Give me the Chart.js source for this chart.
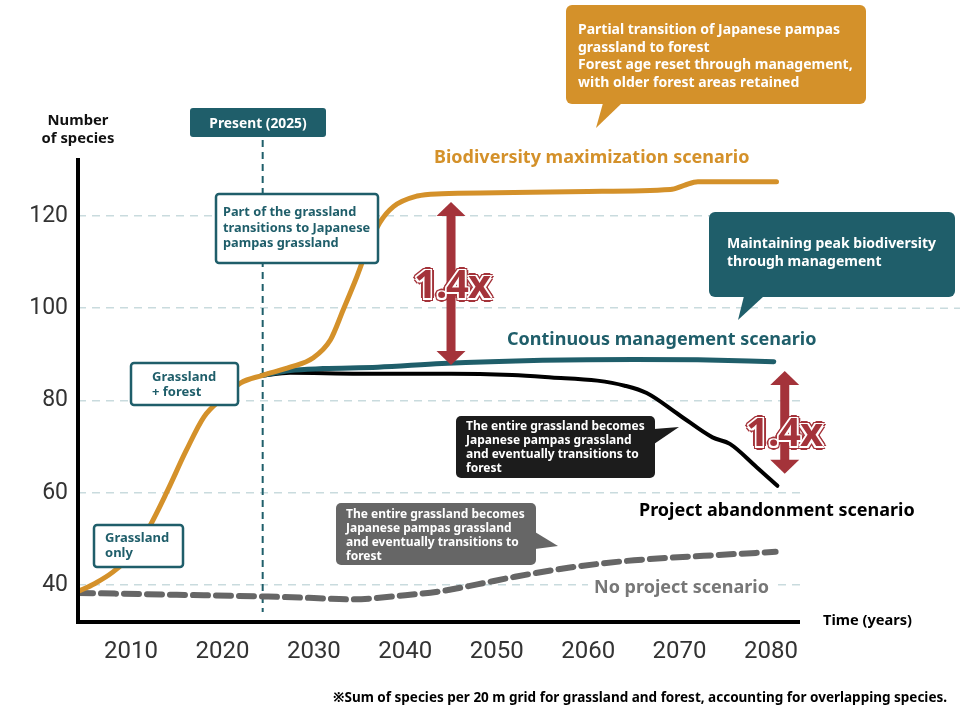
<!DOCTYPE html>
<html>
<head>
<meta charset="utf-8">
<script src="https://cdn.jsdelivr.net/npm/chart.js@4.4.0/dist/chart.umd.min.js"></script>
<style>
html, body { margin: 0; padding: 0; background: #fff; }
#wrap { position: relative; width: 960px; height: 709px; overflow: hidden; font-family: 'Noto Sans', sans-serif; font-weight: 700; }
#wrap canvas, #deco { position: absolute; left: 0; top: 0; }
.t { position: absolute; white-space: nowrap; }
.teal { color: #1f5e6a; }
.white { color: #fff; }
.times { color: #a4333a; font-size: 40px; line-height: 44px; letter-spacing: -1px;
  text-shadow: 1.5px 0 #fff, -1.5px 0 #fff, 0 1.5px #fff, 0 -1.5px #fff, 1.5px 1.5px #fff, -1.5px -1.5px #fff, 1.5px -1.5px #fff, -1.5px 1.5px #fff,
    3.5px 0 #a4333a, -3.5px 0 #a4333a, 0 3.5px #a4333a, 0 -3.5px #a4333a, 2.5px 2.5px #a4333a, -2.5px -2.5px #a4333a, 2.5px -2.5px #a4333a, -2.5px 2.5px #a4333a; }
</style>
</head>
<body>
<div id="wrap">
	<canvas id="myChart" width="960" height="709"></canvas>
	<svg id="deco" width="960" height="709">
		<rect x="190" y="108" width="136" height="29" rx="3" fill="#1f5e6a"/>
		<rect x="216" y="194" width="162" height="69" rx="3" fill="#fff" stroke="#1f5e6a" stroke-width="2.5"/>
		<rect x="131" y="363" width="107" height="42" rx="3" fill="#fff" stroke="#1f5e6a" stroke-width="2.5"/>
		<rect x="94" y="525" width="89" height="42" rx="3" fill="#fff" stroke="#1f5e6a" stroke-width="2.5"/>
		<rect x="566" y="5" width="300" height="99" rx="6" fill="#d4912a"/>
		<polygon points="603,103 622,103 596,128" fill="#d4912a"/>
		<rect x="709" y="212" width="246" height="85" rx="6" fill="#1f5e6a"/>
		<polygon points="744,296 764,296 738,320" fill="#1f5e6a"/>
		<rect x="456" y="416" width="199" height="62" rx="5" fill="#1c1c1c"/>
		<polygon points="654,429 679,427 654,444" fill="#1c1c1c"/>
		<rect x="336" y="503" width="200" height="62" rx="5" fill="#666"/>
		<polygon points="535,532 558,546 535,549" fill="#666"/>
		<rect x="588" y="576" width="188" height="20" fill="#fff"/>
	</svg>

	<div class="t" style="left:28px;top:110px;width:100px;text-align:center;font-size:14.8px;line-height:18px;color:#111">Number<br>of species</div>
	<div class="t white" style="left:190px;top:108px;width:136px;text-align:center;font-size:13.8px;line-height:29px">Present (2025)</div>
	<div class="t teal" style="left:223px;top:204px;font-size:12.8px;line-height:15.5px">Part of the grassland<br>transitions to Japanese<br>pampas grassland</div>
	<div class="t teal" style="left:152px;top:369px;font-size:13px;line-height:15px">Grassland<br>+ forest</div>
	<div class="t teal" style="left:105px;top:530px;font-size:13px;line-height:15px">Grassland<br>only</div>
	<div class="t white" style="left:578px;top:20px;font-size:14px;line-height:17.7px">Partial transition of Japanese pampas<br>grassland to forest<br>Forest age reset through management,<br>with older forest areas retained</div>
	<div class="t white" style="left:727px;top:234px;font-size:14px;line-height:18px">Maintaining peak biodiversity<br>through management</div>
	<div class="t white" style="left:466px;top:419px;font-size:12px;line-height:14px">The entire grassland becomes<br>Japanese pampas grassland<br>and eventually transitions to<br>forest</div>
	<div class="t white" style="left:346px;top:507px;font-size:12px;line-height:14px">The entire grassland becomes<br>Japanese pampas grassland<br>and eventually transitions to<br>forest</div>
	<div class="t" style="left:434px;top:143px;font-size:18px;line-height:26px;color:#d4912a">Biodiversity maximization scenario</div>
	<div class="t teal" style="left:507px;top:325px;font-size:18px;line-height:26px">Continuous management scenario</div>
	<div class="t" style="left:639px;top:496px;font-size:18px;line-height:26px;color:#000">Project abandonment scenario</div>
	<div class="t" style="left:594px;top:573px;font-size:18px;line-height:26px;color:#777">No project scenario</div>
	<div class="t" style="left:823px;top:609px;font-size:14.6px;line-height:20px;color:#000">Time (years)</div>
	<div class="t" style="left:333px;top:687px;font-size:13.5px;line-height:20px;color:#000">※Sum of species per 20 m grid for grassland and forest, accounting for overlapping species.</div>
	<div class="t times" style="left:414px;top:261px">1.4x</div>
	<div class="t times" style="left:746px;top:409px">1.4x</div>
</div>

<script>
const xTicks = [2010, 2020, 2030, 2040, 2050, 2060, 2070, 2080];
const yTicks = [40, 60, 80, 100, 120];

// Biodiversity maximization scenario
const maxYears = [2004.2, 2006, 2008, 2010, 2012, 2014, 2016, 2018, 2020, 2022, 2024.3, 2027.4, 2029.9, 2031.8, 2033.2, 2034.7, 2035.8, 2037.2, 2038.7, 2041.3, 2044, 2050, 2060, 2069, 2070.5, 2072, 2080.6];
const maxSpecies = [38.6, 40.3, 42.8, 46.5, 52.6, 60.5, 69, 76.5, 80.5, 83.8, 85.4, 87.2, 89.2, 93.1, 99.6, 106.8, 112.6, 118.5, 122, 124.3, 124.8, 125, 125.3, 125.7, 126.6, 127.4, 127.4];

// Continuous management scenario
const mgmtYears = [2024.3, 2027.4, 2031, 2037, 2044, 2055, 2065, 2072, 2080.3];
const mgmtSpecies = [85.4, 86.5, 86.9, 87.2, 88, 88.7, 88.9, 88.8, 88.4];

// Project abandonment scenario
const abandonYears = [2024.3, 2027.4, 2035, 2045, 2051.7, 2056, 2061, 2064, 2066.4, 2070, 2073.6, 2075.5, 2078.4, 2080.7];
const abandonSpecies = [85.4, 86, 85.8, 85.8, 85.5, 85, 84.3, 83.2, 81.6, 76.8, 72, 70.6, 65.6, 61.5];

// No project scenario
const noProjectYears = [2004.2, 2015, 2025, 2030, 2034, 2040, 2044, 2048, 2052, 2058, 2064, 2068, 2074, 2080.5];
const noProjectSpecies = [38.3, 37.9, 37.5, 37.2, 36.9, 37.8, 38.7, 40.2, 41.8, 43.8, 45.2, 45.8, 46.5, 47.2];

const presentYear = 2024.4;
const arrowYears = [2045, 2081.5];
const arrowTop = [123, 86.4];
const arrowBottom = [87.7, 64.1];

function points(xs, ys) {
	return xs.map(function(x, i) { return {x: x, y: ys[i]}; });
}

const decor = {
	id: 'decor',
	beforeDatasetsDraw: function(chart) {
		let ctx = chart.ctx;
		let xs = chart.scales.x, ys = chart.scales.y;
		let area = chart.chartArea;
		ctx.save();
		// extra gridline stretch at 100
		ctx.strokeStyle = '#c9dbde';
		ctx.lineWidth = 1.5;
		ctx.setLineDash([8, 6]);
		ctx.beginPath();
		ctx.moveTo(area.right, ys.getPixelForValue(100));
		ctx.lineTo(960, ys.getPixelForValue(100));
		ctx.stroke();
		// present line
		let px = xs.getPixelForValue(presentYear);
		ctx.strokeStyle = '#1f5e6a';
		ctx.lineWidth = 2;
		ctx.setLineDash([7, 5]);
		ctx.beginPath();
		ctx.moveTo(px, 140);
		ctx.lineTo(px, area.bottom - 10);
		ctx.stroke();
		ctx.restore();
	},
	afterDatasetsDraw: function(chart) {
		let ctx = chart.ctx;
		let xs = chart.scales.x, ys = chart.scales.y;
		let area = chart.chartArea;
		ctx.save();
		// axes
		ctx.strokeStyle = '#000';
		ctx.lineWidth = 4;
		ctx.beginPath();
		ctx.moveTo(area.left, area.top - 2);
		ctx.lineTo(area.left, area.bottom);
		ctx.lineTo(area.right, area.bottom);
		ctx.stroke();
		// 1.4x arrows
		ctx.fillStyle = '#a4333a';
		arrowYears.forEach(function(yr, i) {
			let x = xs.getPixelForValue(yr);
			let t = ys.getPixelForValue(arrowTop[i]);
			let b = ys.getPixelForValue(arrowBottom[i]);
			ctx.fillRect(x - 4.5, t + 12, 9, b - t - 24);
			ctx.beginPath();
			ctx.moveTo(x, t); ctx.lineTo(x + 14.5, t + 14); ctx.lineTo(x - 14.5, t + 14); ctx.closePath();
			ctx.fill();
			ctx.beginPath();
			ctx.moveTo(x, b); ctx.lineTo(x + 14.5, b - 14); ctx.lineTo(x - 14.5, b - 14); ctx.closePath();
			ctx.fill();
		});
		ctx.restore();
	}
};

let ctx = document.getElementById('myChart').getContext('2d');

let myChart = new Chart(ctx, {
	type: 'line',
	data: {
		datasets: [{
			label: 'Biodiversity maximization scenario',
			data: points(maxYears, maxSpecies),
			borderColor: '#d4912a',
			borderWidth: 5
		}, {
			label: 'Continuous management scenario',
			data: points(mgmtYears, mgmtSpecies),
			borderColor: '#1f5e6a',
			borderWidth: 5
		}, {
			label: 'Project abandonment scenario',
			data: points(abandonYears, abandonSpecies),
			borderColor: '#000',
			borderWidth: 4
		}, {
			label: 'No project scenario',
			data: points(noProjectYears, noProjectSpecies),
			borderColor: '#666',
			borderWidth: 6,
			borderDash: [15, 8]
		}]
	},
	options: {
		responsive: false,
		animation: false,
		pointRadius: 0,
		borderCapStyle: 'round',
		layout: { padding: { left: 0, top: 160, right: 160, bottom: 47 } },
		plugins: { legend: { display: false }, tooltip: { enabled: false } },
		elements: { point: { radius: 0 }, line: { cubicInterpolationMode: 'monotone' } },
		scales: {
			x: {
				type: 'linear',
				min: 2004.2,
				max: 2083.17,
				afterFit: function(scale) { scale.height = 40; },
				afterBuildTicks: function(scale) { scale.ticks = xTicks.map(function(v) { return {value: v}; }); },
				grid: { display: false },
				border: { display: false },
				ticks: {
					padding: 8,
					color: '#333',
					font: { family: 'Roboto', size: 24 },
					callback: function(v) { return String(v); }
				}
			},
			y: {
				type: 'linear',
				min: 32,
				max: 132.1,
				afterFit: function(scale) { scale.width = 78; },
				afterBuildTicks: function(scale) { scale.ticks = yTicks.map(function(v) { return {value: v}; }); },
				grid: { color: '#c9dbde', lineWidth: 1.5, drawTicks: false },
				border: { display: false, dash: [8, 6] },
				ticks: {
					padding: 10,
					color: '#333',
					font: { family: 'Roboto', size: 23 }
				}
			}
		}
	},
	plugins: [decor]
});
</script>
</body>
</html>
